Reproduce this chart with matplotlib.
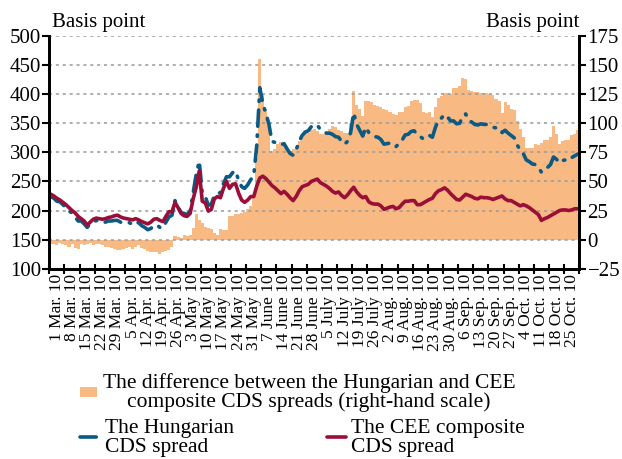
import numpy as np
import pandas as pd
import matplotlib
matplotlib.use("Agg")
import matplotlib.pyplot as plt

plt.rcParams['font.family'] = ['Liberation Serif', 'DejaVu Serif']

# CEE composite CDS spread, basis points, business days 1 Mar - 29 Oct 2010
cee = [228, 225, 221, 218, 214, 210, 205, 200, 196, 190,
       186, 182, 175, 180, 185, 187, 186, 185, 186, 188,
       189, 191, 192, 189, 187, 186, 185, 184, 186, 184,
       181, 179, 177, 180, 185, 186, 183, 181, 190, 198,
       198, 214, 205, 195, 191, 190, 195, 220, 240, 268,
       216, 213, 199, 202, 220, 224, 222, 238, 250, 238,
       245, 246, 230, 218, 214, 218, 224, 224, 242, 256,
       259, 255, 249, 243, 239, 234, 229, 233, 228, 222,
       217, 224, 234, 241, 243, 245, 250, 252, 254, 248,
       245, 242, 238, 233, 230, 232, 226, 222, 227, 234,
       240, 232, 226, 222, 224, 215, 212, 211, 211, 208,
       202, 204, 206, 207, 203, 205, 211, 216, 216, 217,
       217, 210, 210, 213, 216, 219, 221, 229, 234, 236,
       239, 235, 229, 224, 219, 218, 223, 228, 226, 224,
       221, 220, 223, 222, 222, 221, 219, 221, 223, 225,
       220, 217, 217, 214, 211, 208, 210, 208, 205, 201,
       197, 193, 183, 186, 188, 191, 194, 197, 200, 201,
       201, 200, 201, 203, 203]

# Hungarian minus CEE composite spread (right-hand scale)
diff = [-4, -4, -5, -3, -4, -5, -6, -4, -7, -8,
        -4, -5, -4, -3, -5, -4, -4, -5, -6, -6,
        -7, -8, -9, -9, -8, -7, -6, -8, -6, -5,
        -7, -8, -10, -11, -11, -11, -12, -11, -10, -9,
        -6, 3, 2, 1, 4, 3, 4, 10, 22, 17,
        14, 11, 10, 9, 6, 4, 9, 8, 8, 20,
        20, 22, 22, 23, 24, 26, 29, 36, 70, 155,
        125, 112, 100, 76, 78, 82, 84, 82, 78, 76,
        78, 80, 85, 88, 92, 92, 94, 95, 93, 91,
        91, 91, 95, 98, 97, 94, 93, 92, 92, 100,
        128, 116, 112, 106, 119, 119, 118, 116, 115, 114,
        112, 111, 110, 108, 107, 110, 110, 114, 115, 119,
        120, 120, 117, 110, 109, 110, 105, 114, 122, 123,
        126, 126, 125, 130, 130, 132, 139, 138, 129, 128,
        127, 127, 126, 126, 126, 125, 124, 121, 119, 109,
        118, 116, 112, 111, 102, 95, 88, 79, 79, 79,
        82, 81, 83, 86, 86, 88, 98, 91, 82, 85,
        86, 86, 90, 91, 94]

week_labels = ["1 Mar. 10", "8 Mar. 10", "15 Mar. 10", "22 Mar. 10", "29 Mar. 10",
               "5 Apr. 10", "12 Apr. 10", "19 Apr. 10", "26 Apr. 10", "3 May 10",
               "10 May 10", "17 May 10", "24 May 10", "31 May 10", "7 June 10",
               "14 June 10", "21 June 10", "28 June 10", "5 July 10", "12 July 10",
               "19 July 10", "26 July 10", "2 Aug. 10", "9 Aug. 10", "16 Aug. 10",
               "23 Aug. 10", "30 Aug. 10", "6 Sep. 10", "13 Sep. 10", "20 Sep. 10",
               "27 Sep. 10", "4 Oct. 10", "11 Oct. 10", "18 Oct. 10", "25 Oct. 10"]

cee = np.array(cee, dtype=float)
diff = np.array(diff, dtype=float)
hun = cee + diff
x = np.arange(len(cee))

fig = plt.figure(figsize=(6.22, 4.59), dpi=100)
ax = fig.add_axes([0.0793, 0.4146, 0.852, 0.507])
ax2 = ax.twinx()

bars = ax2.bar(x, diff, width=1.0, color='#f8b983', linewidth=0,
               label="The difference between the Hungarian and CEE\ncomposite CDS spreads (right-hand scale)")
ln_h, = ax.plot(x, hun, color='#0b5a84', lw=2.6, linestyle=(0, (4.5, 2.4, 0.4, 2.4)),
                dash_capstyle='round', label="The Hungarian\nCDS spread")
ln_c, = ax.plot(x, cee, color='#9a0e37', lw=2.6, solid_capstyle='round',
                label="The CEE composite\nCDS spread")

ax.set_zorder(ax2.get_zorder() + 1)
ax.patch.set_visible(False)

ax.set_xlim(-0.5, len(cee) - 0.5)
ax.set_ylim(100, 500)
ax2.set_ylim(-25, 175)
ax.set_yticks(np.arange(100, 501, 50))
ax2.set_yticks(np.arange(-25, 176, 25))

ax.set_xticks(np.arange(-0.5, len(cee), 5))
ax.set_xticklabels([])
ax.set_xticks(np.arange(2, len(cee), 5), minor=True)
ax.set_xticklabels(week_labels, minor=True, rotation=90, fontsize=12.5)
ax.tick_params(axis='x', which='minor', length=0, pad=4)
ax.tick_params(axis='x', which='major', direction='inout', length=7, width=1.5)

ax.tick_params(axis='y', labelsize=15, direction='out', length=5, width=1.5, pad=1)
ax2.tick_params(axis='y', labelsize=15, direction='out', length=5, width=1.5, pad=1)

for a in (ax, ax2):
    a.spines['top'].set_visible(False)
    for s in ('left', 'right', 'bottom'):
        a.spines[s].set_linewidth(2)
        a.spines[s].set_color('black')

for yv in np.arange(150, 501, 50):
    ax.axhline(yv, color='#9a9a9a', lw=1.1, linestyle=(0, (2, 2.5)), zorder=0.5)

fig.text(0.083, 0.952, "Basis point", fontsize=15, ha='left', va='center')
fig.text(0.932, 0.952, "Basis point", fontsize=15, ha='right', va='center')

leg1 = fig.legend(handles=[bars], loc='center left', bbox_to_anchor=(0.129, 0.145),
                  frameon=False, fontsize=15.5, handlelength=0.8, handleheight=0.35,
                  handletextpad=0.25, borderaxespad=0, borderpad=0, labelspacing=0)
for t in leg1.get_texts():
    t.set_multialignment('center')
    t.set_linespacing(1.0)

leg2 = fig.legend(handles=[ln_h, ln_c], loc='center left', bbox_to_anchor=(0.129, 0.046),
                  ncol=2, frameon=False, fontsize=15.5, handlelength=0.9,
                  handletextpad=0.25, columnspacing=4.3, borderaxespad=0, borderpad=0)
for t in leg2.get_texts():
    t.set_multialignment('left')
    t.set_linespacing(1.0)

fig.savefig("out.png", dpi=100)
